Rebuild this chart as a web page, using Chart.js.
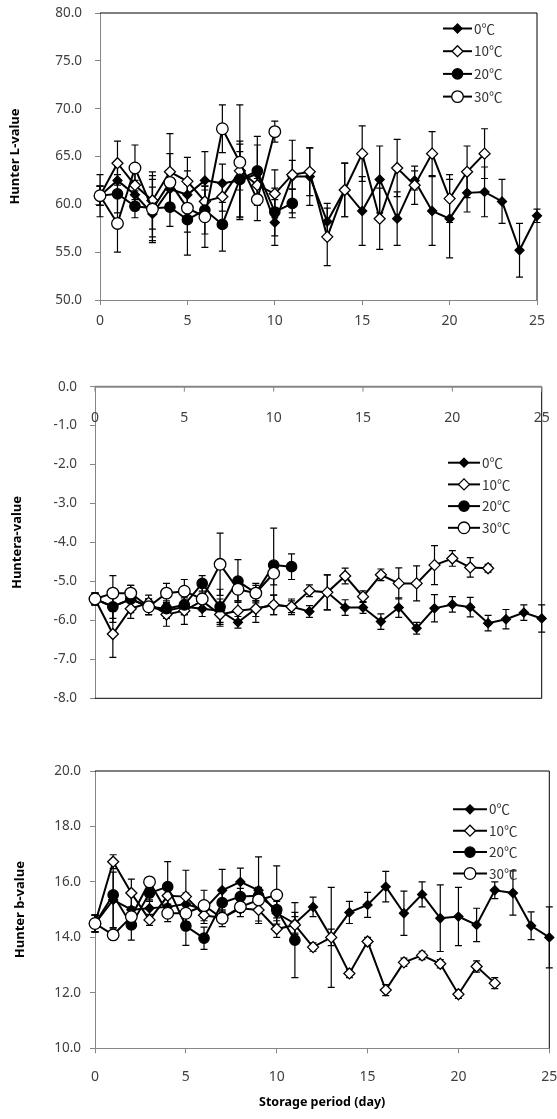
<!DOCTYPE html>
<html>
<head>
<meta charset="utf-8">
<script src="https://cdn.jsdelivr.net/npm/chart.js@4.4.0/dist/chart.umd.min.js"></script>
<style>
  html, body { margin: 0; padding: 0; background: #fff; }
  body { width: 557px; height: 1119px; position: relative; overflow: hidden; }
  canvas { position: absolute; left: 0; }
</style>
</head>
<body>
<canvas id="chartL" width="557" height="345" style="top:0px"></canvas>
<canvas id="chartA" width="557" height="385" style="top:345px"></canvas>
<canvas id="chartB" width="557" height="389" style="top:730px"></canvas>
<script>
const days = [0, 1, 2, 3, 4, 5, 6, 7, 8, 9, 10, 11, 12, 13, 14, 15, 16, 17, 18, 19, 20, 21, 22, 23, 24, 25];
const seriesNames = ['0℃', '10℃', '20℃', '30℃'];
const xTicks = [0, 5, 10, 15, 20, 25];
const lTicks = [50, 55, 60, 65, 70, 75, 80];
const aTicks = [-8, -7, -6, -5, -4, -3, -2, -1, 0];
const bTicks = [10, 12, 14, 16, 18, 20];

// Hunter L-value
const l0 = [60.9, 62.5, 61.0, 59.0, 61.6, 61.0, 62.5, 62.2, 62.5, 63.2, 58.1, 62.9, 62.9, 58.2, 61.5, 59.3, 62.6, 58.5, 62.5, 59.3, 58.5, 61.2, 61.3, 60.3, 55.2, 58.8];
const l10 = [60.9, 64.3, 62.0, 60.4, 63.4, 62.4, 60.3, 60.8, 63.5, 62.0, 61.1, 63.1, 63.4, 56.6, 61.5, 65.3, 58.5, 63.8, 62.0, 65.3, 60.6, 63.4, 65.3];
const l20 = [60.9, 61.1, 59.8, 59.6, 59.7, 58.4, 59.4, 57.9, 62.6, 63.5, 59.2, 60.1];
const l30 = [60.9, 58.0, 63.8, 59.5, 62.3, 59.6, 58.7, 67.9, 64.4, 60.5, 67.6];
const l0Err = [2.2, 1.5, 1.5, 2.8, 1.5, 2.5, 3.0, 2.0, 3.8, 3.0, 2.4, 3.8, 3.0, 1.9, 2.8, 3.6, 3.5, 2.8, 1.0, 3.6, 4.1, 2.0, 2.6, 2.3, 2.8, 0.7];
const l10Err = [1.0, 2.3, 1.5, 3.0, 4.0, 2.5, 1.2, 1.5, 2.0, 1.0, 2.5, 1.5, 2.5, 3.0, 2.8, 2.9, 3.2, 3.0, 2.0, 2.3, 2.5, 2.7, 2.6];
const l20Err = [1.0, 2.0, 1.2, 3.0, 2.0, 3.7, 2.5, 2.8, 4.0, 3.6, 2.5, 1.5];
const l30Err = [1.0, 3.0, 2.4, 3.5, 3.0, 2.5, 3.2, 2.5, 6.0, 2.2, 1.1];

// Hunter a-value
const a0 = [-5.45, -5.65, -5.45, -5.65, -5.75, -5.65, -5.7, -5.75, -6.05, -5.7, -5.6, -5.65, -5.77, -5.28, -5.67, -5.67, -6.03, -5.67, -6.2, -5.69, -5.59, -5.66, -6.07, -5.97, -5.8, -5.95];
const a10 = [-5.45, -6.35, -5.7, -5.55, -5.85, -5.75, -5.5, -5.85, -5.75, -5.7, -5.6, -5.65, -5.24, -5.28, -4.86, -5.39, -4.83, -5.05, -5.05, -4.58, -4.41, -4.64, -4.66];
const a20 = [-5.45, -5.65, -5.45, -5.65, -5.7, -5.6, -5.05, -5.65, -4.99, -5.3, -4.58, -4.62];
const a30 = [-5.45, -5.3, -5.3, -5.65, -5.3, -5.25, -5.45, -4.56, -5.2, -5.3, -4.79];
const a0Err = [0.15, 0.3, 0.2, 0.2, 0.2, 0.2, 0.2, 0.3, 0.15, 0.2, 0.25, 0.2, 0.15, 0.45, 0.2, 0.15, 0.2, 0.25, 0.15, 0.35, 0.2, 0.25, 0.2, 0.25, 0.2, 0.35];
const a10Err = [0.15, 0.6, 0.25, 0.2, 0.3, 0.35, 0.2, 0.3, 0.25, 0.35, 0.25, 0.15, 0.15, 0.45, 0.2, 0.15, 0.15, 0.4, 0.45, 0.5, 0.2, 0.25, 0.1];
const a20Err = [0.15, 0.4, 0.35, 0.2, 0.2, 0.25, 0.2, 0.45, 0.55, 0.25, 0.95, 0.33];
const a30Err = [0.15, 0.45, 0.2, 0.2, 0.25, 0.3, 0.3, 0.8, 0.3, 0.2, 0.3];

// Hunter b-value
const b0 = [14.5, 15.35, 15.0, 15.05, 15.1, 15.2, 15.0, 15.7, 16.0, 15.7, 14.87, 14.5, 15.1, 14.0, 14.9, 15.17, 15.83, 14.87, 15.55, 14.69, 14.75, 14.45, 15.7, 15.6, 14.42, 14.0];
const b10 = [14.5, 16.73, 15.6, 14.63, 15.5, 15.47, 14.8, 14.7, 15.05, 14.99, 14.3, 14.45, 13.65, 14.0, 12.7, 13.85, 12.1, 13.1, 13.35, 13.05, 11.95, 12.95, 12.35];
const b20 = [14.5, 15.53, 14.45, 15.6, 15.83, 14.41, 13.97, 15.25, 15.47, 15.5, 15.0, 13.9];
const b30 = [14.5, 14.09, 14.75, 16.0, 14.87, 14.87, 15.15, 14.69, 15.1, 15.35, 15.53];
const b0Err = [0.3, 1.0, 0.6, 0.3, 0.3, 0.4, 0.3, 0.75, 0.5, 1.2, 0.5, 0.4, 0.35, 1.8, 0.4, 0.45, 0.55, 0.8, 0.45, 1.2, 1.05, 0.6, 0.3, 0.8, 0.5, 1.1];
const b10Err = [0.3, 0.25, 0.5, 0.2, 0.3, 0.95, 0.3, 0.2, 0.3, 0.4, 0.3, 0.3, 0.15, 0.3, 0.15, 0.15, 0.2, 0.15, 0.15, 0.15, 0.15, 0.2, 0.2];
const b20Err = [0.3, 1.2, 0.55, 0.3, 0.9, 0.7, 0.4, 0.4, 0.3, 0.3, 0.3, 1.35];
const b30Err = [0.3, 0.15, 0.3, 0.15, 0.3, 0.3, 0.55, 0.3, 0.2, 0.3, 1.05];

const markers = [
    {style: 'rectRot', radius: 4.5, fill: '#000'},
    {style: 'rectRot', radius: 5.5, fill: '#fff'},
    {style: 'circle', radius: 5.2, fill: '#000'},
    {style: 'circle', radius: 5.8, fill: '#fff'}
];
const tickFont = {family: 'Noto Sans', size: 13.5};
const tickColor = '#404040';
const axisGray = '#868686';

const buildDatasets = (valueLists, errLists) => valueLists.map((vals, i) => ({
    label: seriesNames[i],
    data: vals.map((v, j) => ({x: days[j], y: v})),
    errors: errLists[i],
    borderColor: '#000',
    borderWidth: 2,
    pointStyle: markers[i].style,
    pointRadius: markers[i].radius,
    pointBackgroundColor: markers[i].fill,
    pointBorderColor: '#000',
    pointBorderWidth: 1.3,
    tension: 0,
    clip: false,
    order: 3 - i
}));

// vertical error bars with caps, drawn under the lines
const errorBars = {
    id: 'errorBars',
    beforeDatasetsDraw(chart) {
        const ctx = chart.ctx;
        const yScale = chart.scales.y;
        ctx.save();
        ctx.strokeStyle = '#000';
        ctx.lineWidth = 1.2;
        chart.data.datasets.forEach((ds, i) => {
            chart.getDatasetMeta(i).data.forEach((pt, j) => {
                const v = ds.data[j].y;
                const e = ds.errors[j];
                const top = yScale.getPixelForValue(v + e);
                const bot = yScale.getPixelForValue(v - e);
                ctx.beginPath();
                ctx.moveTo(pt.x, top); ctx.lineTo(pt.x, bot);
                ctx.moveTo(pt.x - 3.5, top); ctx.lineTo(pt.x + 3.5, top);
                ctx.moveTo(pt.x - 3.5, bot); ctx.lineTo(pt.x + 3.5, bot);
                ctx.stroke();
            });
        });
        ctx.restore();
    }
};

// plot area border on the sides that have no axis
const frame = {
    id: 'frame',
    afterDraw(chart, args, opts) {
        const {ctx, chartArea: ca} = chart;
        ctx.save();
        ctx.strokeStyle = '#000';
        ctx.lineWidth = 1;
        ctx.beginPath();
        if (opts.sides.includes('top')) { ctx.moveTo(ca.left, ca.top); ctx.lineTo(ca.right, ca.top); }
        if (opts.sides.includes('right')) { ctx.moveTo(ca.right, ca.top); ctx.lineTo(ca.right, ca.bottom); }
        if (opts.sides.includes('bottom')) { ctx.moveTo(ca.left, ca.bottom); ctx.lineTo(ca.right, ca.bottom); }
        ctx.stroke();
        ctx.restore();
    }
};

const tempLegend = {
    id: 'tempLegend',
    afterDraw(chart, args, opts) {
        const ctx = chart.ctx;
        chart.data.datasets.forEach((ds, i) => {
            const y = opts.y0 + i * opts.dy;
            ctx.save();
            ctx.strokeStyle = '#000';
            ctx.lineWidth = 2;
            ctx.beginPath();
            ctx.moveTo(opts.x0, y);
            ctx.lineTo(opts.x1, y);
            ctx.stroke();
            ctx.fillStyle = ds.pointBackgroundColor;
            ctx.lineWidth = ds.pointBorderWidth;
            Chart.helpers.drawPoint(ctx, {pointStyle: ds.pointStyle, radius: ds.pointRadius, borderWidth: ds.pointBorderWidth, rotation: 0}, (opts.x0 + opts.x1) / 2, y);
            ctx.fillStyle = '#333';
            ctx.font = '13.5px "Noto Sans CJK KR"';
            ctx.textBaseline = 'middle';
            ctx.textAlign = 'left';
            ctx.fillText(ds.label, opts.x1 + 2, y);
            ctx.restore();
        });
    }
};

// a-value chart: x axis sits on y = 0 at the top, labels inside the plot
const topAxis = {
    id: 'topAxis',
    afterDraw(chart) {
        const {ctx, chartArea: ca} = chart;
        const xScale = chart.scales.x;
        ctx.save();
        ctx.strokeStyle = axisGray;
        ctx.lineWidth = 2;
        ctx.beginPath();
        ctx.moveTo(ca.left, ca.top);
        ctx.lineTo(ca.right, ca.top);
        ctx.stroke();
        ctx.lineWidth = 1;
        ctx.font = '14px "Noto Sans"';
        ctx.fillStyle = tickColor;
        ctx.textAlign = 'center';
        ctx.textBaseline = 'middle';
        xTicks.forEach(v => {
            const px = xScale.getPixelForValue(v);
            ctx.beginPath();
            ctx.moveTo(px, ca.top);
            ctx.lineTo(px, ca.top + 5);
            ctx.stroke();
            ctx.fillText(String(v), px, ca.top + 31);
        });
        ctx.restore();
    }
};

const xAxis = (height, padding, title) => ({
    type: 'linear',
    min: 0,
    max: 25,
    afterBuildTicks: s => { s.ticks = xTicks.map(v => ({value: v})); },
    afterFit: s => { s.height = height; s.paddingLeft = 0; s.paddingRight = 0; },
    grid: {drawOnChartArea: false, tickLength: 5, color: axisGray},
    border: {color: axisGray},
    ticks: {font: {family: 'Noto Sans', size: 14}, color: tickColor, padding: padding, maxRotation: 0},
    title: title
});

const yAxis = (min, max, tickList, width, padding, titleText, titlePad) => ({
    min: min,
    max: max,
    afterBuildTicks: s => { s.ticks = tickList.map(v => ({value: v})); },
    afterFit: s => { s.width = width; s.paddingTop = 0; s.paddingBottom = 0; },
    grid: {drawOnChartArea: false, tickLength: 5, color: axisGray},
    border: {color: axisGray},
    ticks: {font: tickFont, color: tickColor, padding: padding, callback: v => v.toFixed(1)},
    title: {display: true, text: titleText, color: '#000', font: {family: 'Noto Sans', size: 13, weight: 'bold'}, padding: {top: titlePad, bottom: 0}}
});

const basePlugins = (legendPos, sides) => ({
    legend: {display: false},
    tooltip: {enabled: false},
    tempLegend: legendPos,
    frame: {sides: sides}
});

new Chart(document.getElementById('chartL'), {
    type: 'line',
    data: {datasets: buildDatasets([l0, l10, l20, l30], [l0Err, l10Err, l20Err, l30Err])},
    options: {
        responsive: false,
        animation: false,
        layout: {padding: {top: 13, right: 20, bottom: 5, left: 0}},
        scales: {
            x: xAxis(40, 8, {display: false}),
            y: yAxis(50, 80, lTicks, 100, 13, 'Hunter L-value', 7)
        },
        plugins: basePlugins({x0: 443, x1: 472, y0: 28.5, dy: 22.7}, ['top', 'right'])
    },
    plugins: [errorBars, frame, tempLegend]
});

new Chart(document.getElementById('chartA'), {
    type: 'line',
    data: {datasets: buildDatasets([a0, a10, a20, a30], [a0Err, a10Err, a20Err, a30Err])},
    options: {
        responsive: false,
        animation: false,
        layout: {padding: {top: 41.7, right: 15.3, bottom: 31.7, left: 0}},
        scales: {
            x: {type: 'linear', min: 0, max: 25, display: false},
            y: yAxis(-8, 0, aTicks, 95, 13, 'Huntera-value', 9)
        },
        plugins: basePlugins({x0: 448, x1: 480, y0: 117.7, dy: 21.7}, ['right', 'bottom'])
    },
    plugins: [errorBars, frame, tempLegend, topAxis]
});

new Chart(document.getElementById('chartB'), {
    type: 'line',
    data: {datasets: buildDatasets([b0, b10, b20, b30], [b0Err, b10Err, b20Err, b30Err])},
    options: {
        responsive: false,
        animation: false,
        layout: {padding: {top: 41, right: 7.7, bottom: 0, left: 0}},
        scales: {
            x: xAxis(70.7, 15, {display: true, text: 'Storage period (day)', color: '#000', font: {family: 'Noto Sans', size: 12.5, weight: 'bold'}, padding: {top: 0, bottom: 9}}),
            y: yAxis(10, 20, bTicks, 95, 9, 'Hunter b-value', 12)
        },
        plugins: basePlugins({x0: 453, x1: 487, y0: 79.3, dy: 21.4}, ['top', 'right'])
    },
    plugins: [errorBars, frame, tempLegend]
});
</script>
</body>
</html>
